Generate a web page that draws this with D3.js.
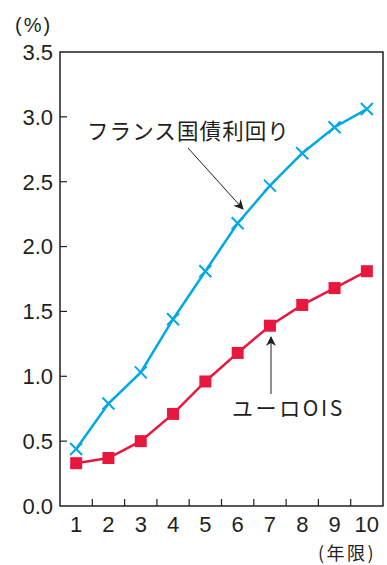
<!DOCTYPE html>
<html><head><meta charset="utf-8">
<script src="https://cdn.jsdelivr.net/npm/d3@7"></script>
<style>body{margin:0;background:#fff}svg{display:block}text{fill:#231f20}</style>
</head><body>
<script>
const years = [1,2,3,4,5,6,7,8,9,10];
const franceYield = [0.44,0.79,1.03,1.44,1.81,2.18,2.47,2.72,2.92,3.06];
const euroOIS = [0.33,0.37,0.50,0.71,0.96,1.18,1.39,1.55,1.68,1.81];
const yTicks = [0,0.5,1,1.5,2,2.5,3,3.5];
const W=387,H=565, L=60,R=383,T=52,B=506;
const LAT="Liberation Sans, Arial, sans-serif", JP="Noto Sans CJK JP, sans-serif";
const svg=d3.select("body").append("svg").attr("width",W).attr("height",H).style("font-family",LAT);
const x=d3.scaleBand().domain(years).range([L,R]);
const y=d3.scaleLinear().domain([0,3.5]).range([B,T]);
const ink="#231f20";
svg.append("rect").attr("x",L).attr("y",T).attr("width",R-L).attr("height",B-T).attr("fill","none").attr("stroke",ink).attr("stroke-width",1.5);
svg.selectAll(".yt").data(yTicks.slice(1,-1)).enter().append("line").attr("x1",L).attr("x2",L+7).attr("y1",d=>y(d)).attr("y2",d=>y(d)).attr("stroke",ink).attr("stroke-width",1.2);
svg.selectAll(".yl").data(yTicks).enter().append("text").attr("x",L-7).attr("y",d=>y(d)).attr("dy","0.36em").attr("text-anchor","end").attr("font-size",22).text(d=>d.toFixed(1));
svg.selectAll(".xt").data(years.slice(1)).enter().append("line").attr("x1",d=>x(d)).attr("x2",d=>x(d)).attr("y1",B).attr("y2",B-7).attr("stroke",ink).attr("stroke-width",1.2);
svg.selectAll(".xl").data(years).enter().append("text").attr("x",d=>x(d)+x.bandwidth()/2).attr("y",532).attr("text-anchor","middle").attr("font-size",22).text(d=>d);
svg.append("text").attr("x",15).attr("y",32).attr("font-size",20).attr("letter-spacing",2).text("(%)");
svg.append("text").attr("x",318).attr("y",560).attr("font-size",18).attr("letter-spacing",2.5).style("font-family",JP).text("(年限)");
const cx=d=>x(d)+x.bandwidth()/2;
const line=d3.line().x((d,i)=>cx(years[i])).y(d=>y(d));
const blue="#00a9e6", red="#e8173e";
svg.append("path").datum(franceYield).attr("d",line).attr("fill","none").attr("stroke",blue).attr("stroke-width",2.5);
svg.append("path").datum(euroOIS).attr("d",line).attr("fill","none").attr("stroke",red).attr("stroke-width",2.5);
const s=6;
svg.selectAll(".cx").data(franceYield).enter().append("path").attr("d",(d,i)=>{const px=cx(years[i]),py=y(d);return `M${px-s},${py-s}L${px+s},${py+s}M${px-s},${py+s}L${px+s},${py-s}`;}).attr("stroke",blue).attr("stroke-width",2);
svg.selectAll(".sq").data(euroOIS).enter().append("rect").attr("x",(d,i)=>cx(years[i])-6).attr("y",d=>y(d)-6).attr("width",12).attr("height",12).attr("fill",red);
svg.append("defs").append("marker").attr("id","ah").attr("viewBox","0 0 10 10").attr("refX",9).attr("refY",5).attr("markerWidth",10).attr("markerHeight",10).attr("markerUnits","userSpaceOnUse").attr("orient","auto").append("path").attr("d","M0,0L10,5L0,10L3,5Z").attr("fill",ink);
svg.append("text").attr("x",87).attr("y",139).attr("font-size",21.5).attr("letter-spacing",1.1).style("font-family",JP).text("フランス国債利回り");
svg.append("line").attr("x1",188).attr("y1",148).attr("x2",243).attr("y2",209).attr("stroke",ink).attr("stroke-width",1).attr("marker-end","url(#ah)");
svg.append("text").attr("x",232).attr("y",416).attr("font-size",21).attr("letter-spacing",2.6).style("font-family",JP).text("ユーロOIS");
svg.append("line").attr("x1",271).attr("y1",394).attr("x2",271).attr("y2",337).attr("stroke",ink).attr("stroke-width",1).attr("marker-end","url(#ah)");
</script>
</body></html>
